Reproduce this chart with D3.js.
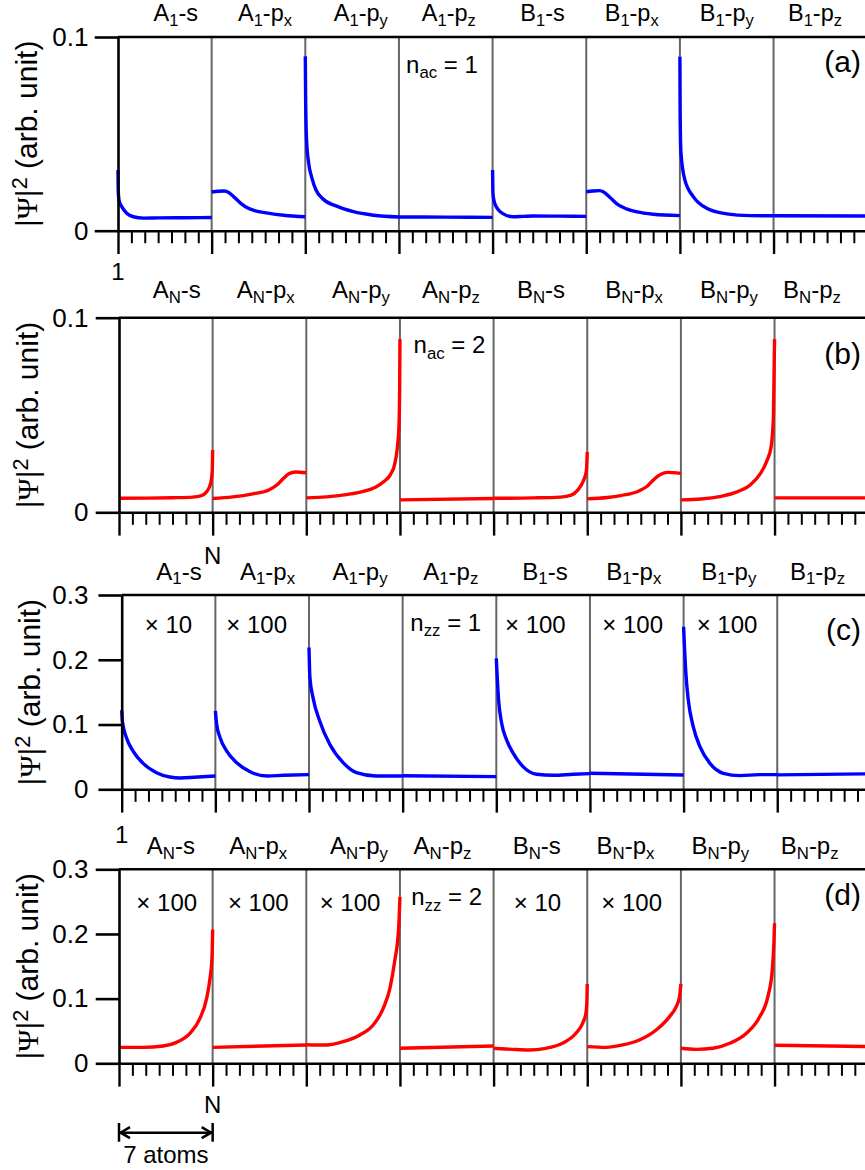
<!DOCTYPE html>
<html><head><meta charset="utf-8">
<script src="https://cdn.jsdelivr.net/npm/d3@7"></script>
<style>
html,body{margin:0;padding:0;background:#fff;}
svg{display:block;background:#fff;}
text{font-family:"Liberation Sans",Arial,Helvetica,sans-serif;fill:#000;}
</style></head><body>
<svg id="chart" width="865" height="1170"></svg>
<script>
// ================= DATA =================
const atomsPerSegment = 7;
const segmentCount = 8;

const orbitalLabels1 = ["A_{1}-s","A_{1}-p_{x}","A_{1}-p_{y}","A_{1}-p_{z}","B_{1}-s","B_{1}-p_{x}","B_{1}-p_{y}","B_{1}-p_{z}"];
const orbitalLabelsN = ["A_{N}-s","A_{N}-p_{x}","A_{N}-p_{y}","A_{N}-p_{z}","B_{N}-s","B_{N}-p_{x}","B_{N}-p_{y}","B_{N}-p_{z}"];

const yTicksSmall = [0, 0.1];
const yTickLabelsSmall = ["0", "0.1"];
const yTicksLarge = [0, 0.1, 0.2, 0.3];
const yTickLabelsLarge = ["0", "0.1", "0.2", "0.3"];

const yTitleParts = ["|", "Ψ", "|", "2", " (arb. unit)"];
const panelTags = ["(a)", "(b)", "(c)", "(d)"];
const modeLabels = ["n_{ac} = 1", "n_{ac} = 2", "n_{zz} = 1", "n_{zz} = 2"];
const axisEndLabels = ["1", "N", "1", "N"];
const scaleNotesC = ["× 10", "× 100", "", "", "× 100", "× 100", "× 100", ""];
const scaleNotesD = ["× 100", "× 100", "× 100", "", "× 10", "× 100", "", ""];
const spanLabel = "7 atoms";

// |Psi|^2 curves, each point = [atom position within segment (0..7), value]
// (a) n_ac = 1
const curvesA = [
  [[0,.0313],[0.02,.020],[0.1,.015],[0.28,.0124],[0.65,.0090],[1.15,.0072],[1.9,.0065],[3,.0066],[5,.0067],[7,.0068]],
  [[0,.0200],[0.5,.0204],[0.95,.0205],[1.25,.0198],[1.7,.0172],[2.2,.0140],[2.7,.0117],[3.2,.0104],[4.2,.0091],[5.4,.0080],[7,.0072]],
  [[0,.090],[0.03,.065],[0.1,.046],[0.25,.035],[0.5,.027],[0.8,.021],[1.3,.0165],[2.3,.0128],[3.6,.0098],[5.1,.0080],[7,.0071]],
  [[0,.0071],[3.5,.0070],[7,.0069]],
  [[0,.0313],[0.03,.019],[0.12,.0150],[0.35,.0115],[0.77,.0088],[1.5,.0072],[2.3,.0074],[3.0,.0076],[5,.0075],[7,.0074]],
  [[0,.0201],[0.5,.0205],[1.0,.0207],[1.3,.0200],[1.8,.0170],[2.4,.0133],[3.0,.0113],[3.8,.0097],[5,.0085],[7,.0078]],
  [[0,.0898],[0.02,.060],[0.08,.040],[0.37,.0262],[1.0,.0176],[2.0,.0116],[3.5,.0087],[5.2,.0078],[7,.0077]],
  [[0,.0077],[7,.0076]]
];
// (b) n_ac = 2
const curvesB = [
  [[0,.0072],[2,.0073],[4,.0075],[5.5,.0078],[6.1,.0084],[6.55,.0106],[6.85,.0149],[6.97,.021],[7,.032]],
  [[0,.0071],[1.5,.0079],[3,.0095],[4.2,.0115],[4.8,.0140],[5.3,.0175],[5.7,.0198],[6.2,.0207],[7,.0203]],
  [[0,.0074],[1.5,.0079],[3,.0091],[4.2,.0106],[5.2,.0130],[5.8,.0158],[6.3,.0195],[6.6,.0245],[6.8,.033],[6.93,.045],[6.98,.065],[7,.089]],
  [[0,.0064],[7,.0071]],
  [[0,.0072],[3,.0074],[5,.0078],[5.8,.0088],[6.3,.0115],[6.7,.016],[6.93,.021],[7,.031]],
  [[0,.0069],[1.5,.0076],[2.5,.0086],[3.9,.0111],[4.5,.0135],[5.0,.0170],[5.5,.0195],[6.0,.0205],[7,.0200]],
  [[0,.0064],[1.5,.0068],[3,.0082],[4.2,.0105],[5.2,.0142],[5.9,.0195],[6.4,.026],[6.75,.034],[6.92,.05],[7,.089]],
  [[0,.0074],[7,.0074]]
];
// (c) n_zz = 1
const curvesC = [
  [[0,.122],[0.05,.105],[0.35,.080],[0.85,.059],[1.6,.040],[2.6,.0257],[3.6,.019],[4.4,.0175],[5.4,.0185],[7,.0206]],
  [[0,.121],[0.1,.100],[0.35,.080],[0.85,.059],[1.6,.041],[2.6,.027],[3.85,.0206],[5.1,.0216],[7,.0226]],
  [[0,.219],[0.07,.172],[0.3,.1415],[0.8,.1055],[1.55,.0695],[2.55,.0412],[3.55,.0257],[5,.0206],[7,.0206]],
  [[0,.0210],[7,.0195]],
  [[0,.2022],[0.17,.138],[0.4,.102],[0.77,.0762],[1.27,.0556],[2.0,.035],[3.0,.0232],[4.25,.0216],[5.75,.0232],[7,.0242]],
  [[0,.0247],[7,.0221]],
  [[0,.251],[0.17,.179],[0.35,.138],[0.72,.0967],[1.22,.0659],[1.97,.0401],[2.97,.0247],[4.2,.0211],[5.7,.0226],[7,.0226]],
  [[0,.0222],[7,.0240]]
];
// (d) n_zz = 2
const curvesD = [
  [[0,.0247],[1.8,.0247],[3.3,.0268],[4.3,.0324],[5.3,.0463],[6.05,.0695],[6.55,.1003],[6.8,.1312],[6.95,.1621],[7,.207]],
  [[0,.0247],[7,.0283]],
  [[0,.0288],[1.5,.0283],[2.75,.0334],[4.0,.0437],[5.0,.0592],[5.75,.0849],[6.25,.1158],[6.6,.157],[6.9,.2084],[7,.2573]],
  [[0,.0232],[7,.0268]],
  [[0,.0232],[1.4,.0216],[2.65,.0206],[3.9,.0232],[5.15,.0309],[6.15,.0464],[6.65,.0619],[6.9,.0773],[6.97,.095],[7,.1227]],
  [[0,.0258],[1.4,.0247],[2.65,.0284],[3.9,.0361],[5.15,.0515],[6.15,.0722],[6.65,.0876],[6.9,.1031],[7,.1227]],
  [[0,.0232],[1.15,.0216],[2.4,.0232],[3.65,.0309],[4.9,.0464],[5.9,.0722],[6.5,.1031],[6.83,.1443],[6.95,.1856],[7,.2165]],
  [[0,.0278],[7,.0258]]
];

// ================= LAYOUT =================
const SEG_W = 93.65;
const panels = [
  {curves: curvesA, labels: orbitalLabels1, top: 37,    zero: 230.7,  x0: 118,   ymax: 0.1, ticks: yTicksSmall, tickLabels: yTickLabelsSmall, color: "#0000ff",
   labOff: 15.7, labSize: 23.5, labDx: [11, 6.5, 8.7, 3, 3.1, -1.4, 0, -5.4], endAtom: 0, endOff: 49.5, modeDx: -3.8, notes: null, tagOff: 34.5},
  {curves: curvesB, labels: orbitalLabelsN, top: 317.7, zero: 512.3,  x0: 119,   ymax: 0.1, ticks: yTicksSmall, tickLabels: yTickLabelsSmall, color: "#ff0000",
   labOff: 19.5, labSize: 24, labDx: [10.9, 6.3, 7.9, 4.2, 0.6, 0, 1.3, -9.4], endAtom: 7, endOff: 51.5, modeDx: 2.7, notes: null, tagOff: 46},
  {curves: curvesC, labels: orbitalLabels1, top: 595,   zero: 789.3,  x0: 121.7, ymax: 0.3, ticks: yTicksLarge, tickLabels: yTickLabelsLarge, color: "#0000ff",
   labOff: 15.5, labSize: 24, labDx: [10.5, 5.3, 4.2, 1.3, 1.9, -3, -1.6, -6.6], endAtom: 0, endOff: 54, modeDx: -3.7,
   notes: scaleNotesC, notesDx: [0, -5.5, 0, 0, -7.8, -4.1, -3.4, 0], notesOff: 37.7, tagOff: 45.4},
  {curves: curvesD, labels: orbitalLabelsN, top: 869.3, zero: 1063.3, x0: 119,   ymax: 0.3, ticks: yTicksLarge, tickLabels: yTickLabelsLarge, color: "#ff0000",
   labOff: 15.2, labSize: 24, labDx: [5, -1.2, 5.9, -4.3, -3.7, -8.6, -7.4, -11.7], endAtom: 7, endOff: 50, modeDx: -0.1,
   notes: scaleNotesD, notesDx: [0.9, -1.2, -3.1, 0, -2.9, -2.4, 0, 0], notesOff: 41.2, tagOff: 36.1}
];

const svg = d3.select("#chart");
svg.append("rect").attr("width", 865).attr("height", 1170).attr("fill", "#fff");

// rich text with _{sub} tokens
function rich(textSel, str, subScale, subDy) {
  const parts = str.split(/(_\{[^}]*\})/).filter(s => s.length);
  let cur = 0;
  parts.forEach(p => {
    const m = p.match(/^_\{(.*)\}$/);
    if (m) {
      textSel.append("tspan").attr("font-size", subScale + "em").attr("dy", subDy - cur).text(m[1]);
      cur = subDy;
    } else {
      textSel.append("tspan").attr("dy", -cur).text(p);
      cur = 0;
    }
  });
}

const TICK_LABEL_X = 88.5;
const MAJOR = 23.3, MINOR = 12.5;

panels.forEach((P, pi) => {
  const g = svg.append("g");
  const x = d3.scaleLinear().domain([0, atomsPerSegment * segmentCount]).range([P.x0, P.x0 + SEG_W * segmentCount]);
  const y = d3.scaleLinear().domain([0, P.ymax]).range([P.zero, P.top]);

  // segment separators
  g.selectAll("line.sep").data(d3.range(1, segmentCount + 1)).join("line")
    .attr("x1", k => x(k * atomsPerSegment)).attr("x2", k => x(k * atomsPerSegment))
    .attr("y1", P.top).attr("y2", P.zero)
    .attr("stroke", "#666").attr("stroke-width", 2);

  // top frame line
  g.append("line").attr("x1", P.x0).attr("x2", 870).attr("y1", y(P.ymax)).attr("y2", y(P.ymax))
    .attr("stroke", "#000").attr("stroke-width", 2.6);

  // curves
  const line = d3.line().curve(d3.curveMonotoneX);
  P.curves.forEach((c, si) => {
    g.append("path")
      .attr("d", line(c.map(d => [x(si * atomsPerSegment + d[0]), y(d[1])])))
      .attr("fill", "none").attr("stroke", P.color).attr("stroke-width", 3.4)
      .attr("stroke-linejoin", "round");
  });

  // bottom axis: minor ticks
  const minorVals = d3.range(0, atomsPerSegment * segmentCount + 1).filter(v => v % atomsPerSegment !== 0);
  const axMinor = g.append("g").attr("transform", `translate(0,${P.zero})`)
    .call(d3.axisBottom(x).tickValues(minorVals).tickSize(MINOR).tickSizeOuter(0).tickFormat(""));
  axMinor.select(".domain").remove();
  axMinor.selectAll(".tick line").attr("stroke", "#000").attr("stroke-width", 2);
  // major ticks + axis line
  const majorVals = d3.range(0, segmentCount + 1).map(k => k * atomsPerSegment);
  const axMajor = g.append("g").attr("transform", `translate(0,${P.zero})`)
    .call(d3.axisBottom(x).tickValues(majorVals).tickSize(MAJOR).tickSizeOuter(0).tickFormat(""));
  axMajor.select(".domain").attr("stroke", "#000").attr("stroke-width", 2.6);
  axMajor.selectAll(".tick line").attr("stroke", "#000").attr("stroke-width", 2.4);

  // left axis
  const ay = g.append("g").attr("transform", `translate(${P.x0},0)`)
    .call(d3.axisLeft(y).tickValues(P.ticks).tickSize(MAJOR).tickSizeOuter(0)
      .tickPadding(P.x0 - MAJOR - TICK_LABEL_X)
      .tickFormat((d, i) => P.tickLabels[i]));
  ay.select(".domain").attr("stroke", "#000").attr("stroke-width", 2.6);
  ay.selectAll(".tick line").attr("stroke", "#000").attr("stroke-width", 2.6);
  ay.selectAll(".tick text").attr("font-size", 26).attr("font-family", "Liberation Sans, Arial, sans-serif").attr("fill", "#000");
  ay.attr("font-family", null).attr("font-size", null);

  // y title
  const yt = g.append("text")
    .attr("transform", `translate(${P.x0 - 81.3},${(P.top + P.zero) / 2}) rotate(-90)`)
    .attr("text-anchor", "middle").attr("font-size", 30);
  yt.append("tspan").text(yTitleParts[0]);
  yt.append("tspan").attr("font-family", "Liberation Serif, Times New Roman, serif").text(yTitleParts[1]);
  yt.append("tspan").text(yTitleParts[2]);
  yt.append("tspan").attr("font-size", "0.72em").attr("dy", -10).text(yTitleParts[3]);
  yt.append("tspan").attr("dy", 10).text(yTitleParts[4]);

  // column labels
  P.labels.forEach((lab, si) => {
    const t = g.append("text").attr("text-anchor", "middle").attr("font-size", P.labSize)
      .attr("x", x(si * atomsPerSegment + atomsPerSegment / 2) + P.labDx[si])
      .attr("y", P.top - P.labOff);
    rich(t, lab, 0.7, 4.5);
  });

  // axis end label (1 or N)
  g.append("text").attr("text-anchor", "middle").attr("font-size", 24)
    .attr("x", x(P.endAtom)).attr("y", P.zero + P.endOff).text(axisEndLabels[pi]);

  // mode label
  const mt = g.append("text").attr("text-anchor", "middle").attr("font-size", 24)
    .attr("x", x(3 * atomsPerSegment + atomsPerSegment / 2) + P.modeDx)
    .attr("y", P.top + 35.7);
  rich(mt, modeLabels[pi], 0.7, 5.6);

  // scale notes
  if (P.notes) {
    P.notes.forEach((n, si) => {
      if (!n) return;
      g.append("text").attr("text-anchor", "middle").attr("font-size", 24)
        .attr("x", x(si * atomsPerSegment + atomsPerSegment / 2) + P.notesDx[si])
        .attr("y", P.top + P.notesOff).text(n);
    });
  }

  // panel tag
  g.append("text").attr("text-anchor", "end").attr("font-size", 30)
    .attr("x", 861).attr("y", P.top + P.tagOff).text(panelTags[pi]);

  // span arrow under last panel
  if (pi === 3) {
    const ax1 = x(0), ax2 = x(atomsPerSegment), ayy = 1132.7;
    const ag = g.append("g").attr("stroke", "#000").attr("stroke-width", 2.5).attr("fill", "none");
    ag.append("line").attr("x1", ax1).attr("x2", ax2).attr("y1", ayy).attr("y2", ayy);
    ag.append("line").attr("x1", ax1).attr("x2", ax1).attr("y1", ayy - 9.7).attr("y2", ayy + 9);
    ag.append("line").attr("x1", ax2).attr("x2", ax2).attr("y1", ayy - 9.7).attr("y2", ayy + 9);
    ag.append("path").attr("d", `M${ax1 + 11},${ayy - 5.5}L${ax1 + 1.5},${ayy}L${ax1 + 11},${ayy + 5.5}`);
    ag.append("path").attr("d", `M${ax2 - 11},${ayy - 5.5}L${ax2 - 1.5},${ayy}L${ax2 - 11},${ayy + 5.5}`);
    g.append("text").attr("text-anchor", "middle").attr("font-size", 24)
      .attr("x", (ax1 + ax2) / 2).attr("y", 1163).text(spanLabel);
  }
});
</script>
</body></html>
